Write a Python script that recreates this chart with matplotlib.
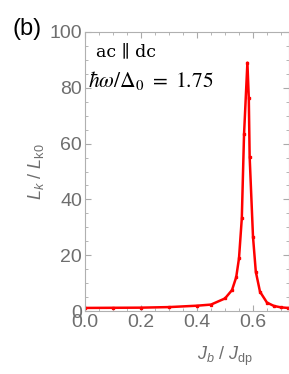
import matplotlib
matplotlib.use("Agg")
import matplotlib.pyplot as plt
from matplotlib.ticker import MultipleLocator

x_vals = [0.0, 0.1, 0.2, 0.3, 0.4, 0.45, 0.5, 0.525, 0.54, 0.55, 0.56, 0.568,
          0.58, 0.585, 0.588, 0.6, 0.61, 0.625, 0.65, 0.675, 0.7, 0.725]
y_vals = [1.1, 1.15, 1.2, 1.4, 1.9, 2.3, 4.5, 7.5, 12.1, 18.9, 33.2, 63.3,
          89.0, 76.2, 55.3, 26.6, 14.1, 6.9, 3.0, 1.8, 1.3, 1.1]
x_ticks = [0.0, 0.2, 0.4, 0.6]
y_ticks = [0, 20, 40, 60, 80, 100]

W, H = 289, 374
fig = plt.figure(figsize=(W / 100, H / 100), dpi=100)
ax = fig.add_axes([85 / W, 1 - 311 / H, (289 - 85) / W, (311 - 32) / H])

ax.plot(x_vals, y_vals, color="#ff0000", lw=1.8, marker="s", ms=2.0)
ax.set_xlim(0, (289 - 85) / 280)
ax.set_ylim(0, 100)

gray = "#6e6e6e"
ax.set_xticks(x_ticks)
ax.set_xticklabels([f"{v:.1f}" for v in x_ticks])
ax.set_yticks(y_ticks)
ax.xaxis.set_minor_locator(MultipleLocator(0.05))
ax.yaxis.set_minor_locator(MultipleLocator(5))
ax.tick_params(which="both", direction="in", top=True, right=True, color="#aaaaaa",
               labelcolor=gray, labelsize=14)
ax.tick_params(which="major", length=4)
ax.tick_params(which="minor", length=2)
for lab in ax.get_xticklabels() + ax.get_yticklabels():
    lab.set_fontfamily("Liberation Sans")
ax.tick_params(axis="x", pad=2.5)
ax.tick_params(axis="y", pad=2)
for s in ax.spines.values():
    s.set_color("#b0b0b0")
    s.set_linewidth(0.8)

plt.rcParams["mathtext.fontset"] = "custom"
plt.rcParams["mathtext.rm"] = "Liberation Sans"
plt.rcParams["mathtext.it"] = "Liberation Sans:italic"
fig.text(36 / W, 1 - 172 / H, r"$L_k\ /\ L_{\rm k0}$", rotation=90, ha="center", va="center",
         color=gray, fontsize=13, family="Liberation Sans")
fig.text(225 / W, 1 - 356 / H, r"$J_b\ /\ J_{\rm dp}$", ha="center", va="center",
         color=gray, fontsize=13, family="Liberation Sans")

fig.text(13 / W, 1 - 29 / H, "(b)", ha="left", va="center", fontsize=17,
         family="Liberation Sans", color="black")
fig.text(96 / W, 1 - 52 / H, "ac \u2225 dc", ha="left", va="center", fontsize=12.5,
         family="DejaVu Serif", color="black")
fig.text(88 / W, 1 - 80 / H, r"$\hbar\omega/\Delta_0\ =\ 1.75$", ha="left", va="center",
         fontsize=15.5, color="black", math_fontfamily="stix")

fig.savefig("out.png", dpi=100)
